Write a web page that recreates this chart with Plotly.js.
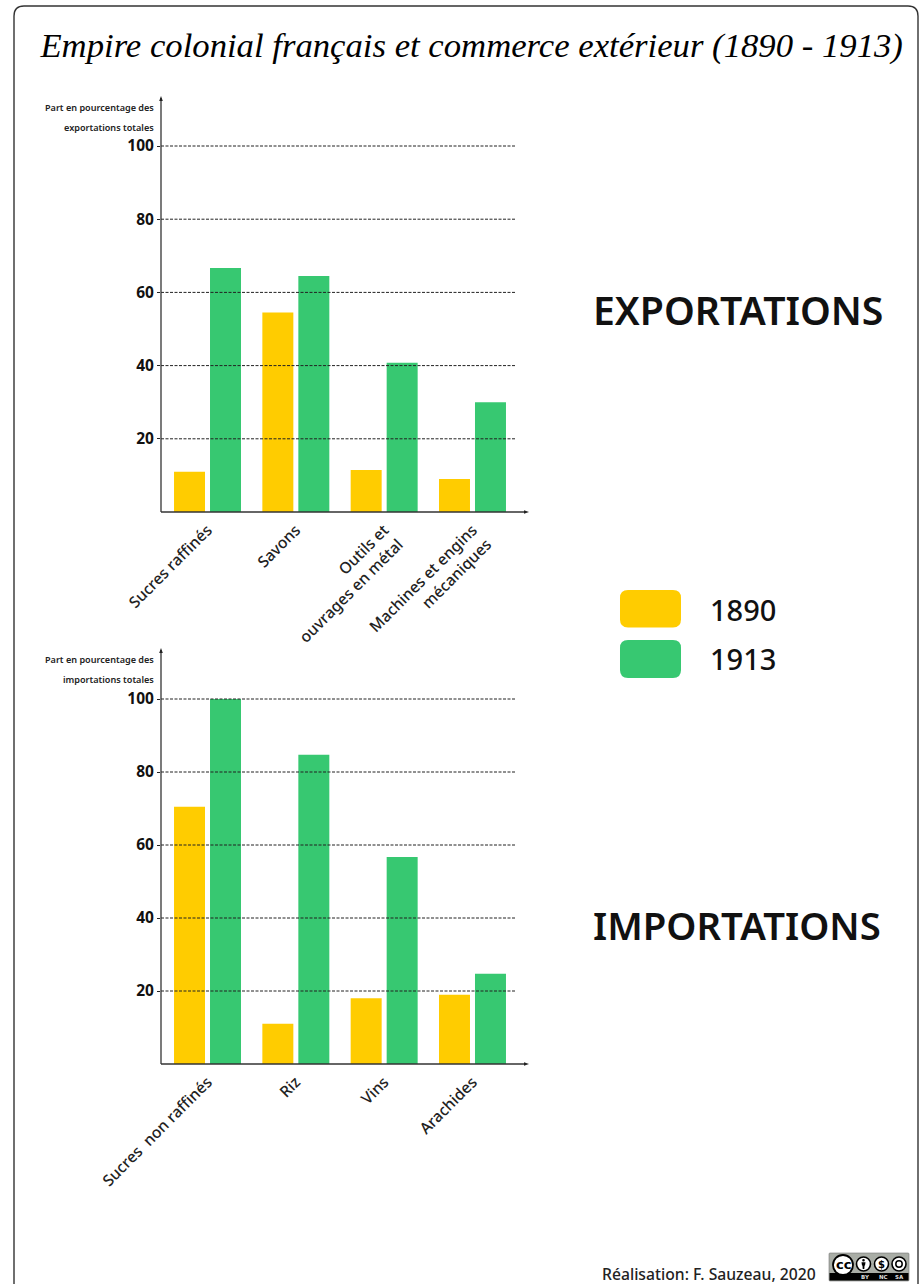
<!DOCTYPE html>
<html><head><meta charset="utf-8">
<script src="https://cdn.plot.ly/plotly-3.0.1.min.js"></script>
<style>html,body{margin:0;padding:0;background:#fff}</style></head>
<body><div id="chart" style="width:923px;height:1284px"></div>
<script>
const exportCategories = ["Sucres raffinés","Savons","Outils et<br>ouvrages en métal","Machines et engins<br>mécaniques"];
const export1890 = [11,54.5,11.5,9];
const export1913 = [66.7,64.5,40.8,30];
const importCategories = ["Sucres  non raffinés","Riz","Vins","Arachides"];
const import1890 = [70.5,11,18,19];
const import1913 = [100,84.7,56.7,24.7];
const gridValues = [20,40,60,80,100];
const seriesNames = ["1890","1913"];
const yellow = "#ffcc00", green = "#37c871";

const W=923,H=1284;
const px=x=>x/W, py=y=>1-y/H;
const FONT='"Noto Sans", sans-serif';
const INK='#222';

const traces=[
 {type:'bar',name:seriesNames[0],x:exportCategories,y:export1890,marker:{color:yellow},xaxis:'x',yaxis:'y',showlegend:false},
 {type:'bar',name:seriesNames[1],x:exportCategories,y:export1913,marker:{color:green},xaxis:'x',yaxis:'y',showlegend:false},
 {type:'bar',name:seriesNames[0],x:importCategories,y:import1890,marker:{color:yellow},xaxis:'x2',yaxis:'y2',showlegend:false},
 {type:'bar',name:seriesNames[1],x:importCategories,y:import1913,marker:{color:green},xaxis:'x2',yaxis:'y2',showlegend:false}
];

function pth(d){
  return d.replace(/(-?[\d.]+),(-?[\d.]+)/g,(m,a,b)=>px(+a).toFixed(5)+','+py(+b).toFixed(5));
}
function roundRect(x0,y0,x1,y1,r){
  return pth(`M${x0+r},${y0} L${x1-r},${y0} Q${x1},${y0} ${x1},${y0+r} L${x1},${y1-r} Q${x1},${y1} ${x1-r},${y1} L${x0+r},${y1} Q${x0},${y1} ${x0},${y1-r} L${x0},${y0+r} Q${x0},${y0} ${x0+r},${y0} Z`);
}
const shapes=[];
const P=(path,o)=>shapes.push(Object.assign({type:'path',xref:'paper',yref:'paper',path},o));
const L=(x0,y0,x1,y1,c,w)=>shapes.push({type:'line',xref:'paper',yref:'paper',x0:px(x0),x1:px(x1),y0:py(y0),y1:py(y1),line:{color:c,width:w}});
const C=(cx,cy,r,fill,lc,lw)=>shapes.push({type:'circle',xref:'paper',yref:'paper',x0:px(cx-r),x1:px(cx+r),y0:py(cy-r),y1:py(cy+r),fillcolor:fill,line:{color:lc,width:lw}});

// frame
P(pth('M14,1300 L14,16 Q14,6 24,6 L908,6 Q918,6 918,16 L918,1300'),{line:{color:'#333',width:1.4}});

// gridlines above the bars
[['x','y'],['x2','y2']].forEach(([xa,ya])=>{
  gridValues.forEach(v=>shapes.push({type:'line',xref:xa+' domain',yref:ya,x0:0,x1:1,y0:v,y1:v,line:{color:'#222',width:1,dash:'3px,1.5px'}}));
});

// axis lines with arrowheads
[[512,96],[1064,648]].forEach(([y0,yt])=>{
  L(161,y0,161,yt+2,'#333',1.3);
  L(161,y0,526,y0,'#333',1.3);
  P(pth(`M161,${yt} L159.2,${yt+5} L162.8,${yt+5} Z`),{fillcolor:'#222',line:{width:0}});
  P(pth(`M529,${y0} L524,${y0-1.8} L524,${y0+1.8} Z`),{fillcolor:'#222',line:{width:0}});
});

// legend swatches
P(roundRect(620,590,681,627.5,8),{fillcolor:yellow,line:{width:0}});
P(roundRect(620,640,681,678,8),{fillcolor:green,line:{width:0}});

// licence badge
P(roundRect(829,1253,909,1281,1),{fillcolor:'#a9ada6',line:{color:'#777',width:0.6}});
P(pth('M829.5,1273 L908.5,1273 L908.5,1280.5 L829.5,1280.5 Z'),{fillcolor:'#000',line:{width:0}});
C(843,1265,10,'#fff','#000',1.8);
C(863.5,1264,7,'#fff','#000',1.6);
C(881.5,1264,7,'#fff','#000',1.6);
C(899,1264,7,'#fff','#000',1.6);
C(863.5,1260.3,1.3,'#000','#000',0);
P(pth('M861.5,1262.3 L865.5,1262.3 L865,1265.5 L864.5,1265.5 L864.3,1269 L862.7,1269 L862.5,1265.5 L862,1265.5 Z'),{fillcolor:'#000',line:{width:0}});
C(899,1264,3.2,'#fff','#000',1.5);

const ann=[];
const T=(text,x,y,size,o)=>ann.push(Object.assign({xref:'paper',yref:'paper',x:px(x),y:py(y),text,showarrow:false,xanchor:'right',yanchor:'middle',align:'right',borderpad:0,
   font:Object.assign({family:FONT,size,color:INK},(o&&o.font)||{})},o&&o.a||{}));
T('Part en pourcentage des',155,107,9.1,{font:{weight:600}});
T('exportations totales',155,127,9.1,{font:{weight:600}});
T('Part en pourcentage des',155,660,9.1,{font:{weight:600}});
T('importations totales',155,680,9.1,{font:{weight:600}});
T('EXPORTATIONS',883.5,309,39.2,{font:{weight:600,color:'#111'}});
T('IMPORTATIONS',881.5,925,38.3,{font:{weight:600,color:'#111'}});
T(seriesNames[0],709,609,29,{font:{weight:500,color:'#111'},a:{xanchor:'left'}});
T(seriesNames[1],709,658,29,{font:{weight:500,color:'#111'},a:{xanchor:'left'}});
T('Réalisation: F. Sauzeau, 2020',816.5,1274,15.7,{font:{weight:500}});
T('cc',843,1264,13,{font:{family:'"DejaVu Sans"',weight:700,color:'#000'},a:{xanchor:'center'}});
T('$',881.5,1264,10,{font:{family:'"DejaVu Sans"',weight:700,color:'#000'},a:{xanchor:'center'}});
T('BY',865,1277,5.5,{font:{family:'"DejaVu Sans"',weight:700,color:'#ddd'},a:{xanchor:'center'}});
T('NC',883,1277,5.5,{font:{family:'"DejaVu Sans"',weight:700,color:'#ddd'},a:{xanchor:'center'}});
T('SA',899,1277,5.5,{font:{family:'"DejaVu Sans"',weight:700,color:'#ddd'},a:{xanchor:'center'}});

const xCommon={type:'category',range:[-0.5266,3.4926],showgrid:false,showline:false,zeroline:false,ticks:'',tickangle:-45,automargin:false,
  tickfont:{family:FONT,size:15.6,color:INK,weight:500},ticklabelstandoff:5,fixedrange:true};
const yCommon={range:[0,105],tickmode:'array',tickvals:gridValues,ticktext:gridValues.map(String),showgrid:false,showline:false,zeroline:false,
  ticks:'outside',ticklen:3,tickwidth:1,tickcolor:'#222',automargin:false,tickfont:{family:FONT,size:15.5,color:'#111',weight:700},fixedrange:true};

const layout={width:W,height:H,margin:{l:0,r:0,t:0,b:0},paper_bgcolor:'#fff',plot_bgcolor:'rgba(0,0,0,0)',
  barmode:'group',bargap:0.185,bargroupgap:0.139,showlegend:false,
  title:{text:'Empire colonial français et commerce extérieur (1890 - 1913)',x:0.511,xanchor:'center',y:py(45),yanchor:'middle',
    font:{family:'"Liberation Serif", serif',size:34.7,style:'italic',color:'#000'}},
  xaxis:Object.assign({},xCommon,{domain:[px(161),px(516)],anchor:'y'}),
  yaxis:Object.assign({},yCommon,{domain:[py(512),py(127.7)],anchor:'x'}),
  xaxis2:Object.assign({},xCommon,{domain:[px(161),px(516)],anchor:'y2'}),
  yaxis2:Object.assign({},yCommon,{domain:[py(1064),py(680.75)],anchor:'x2'}),
  shapes,annotations:ann};
Plotly.newPlot('chart',traces,layout,{displayModeBar:false,staticPlot:true});
</script></body></html>
